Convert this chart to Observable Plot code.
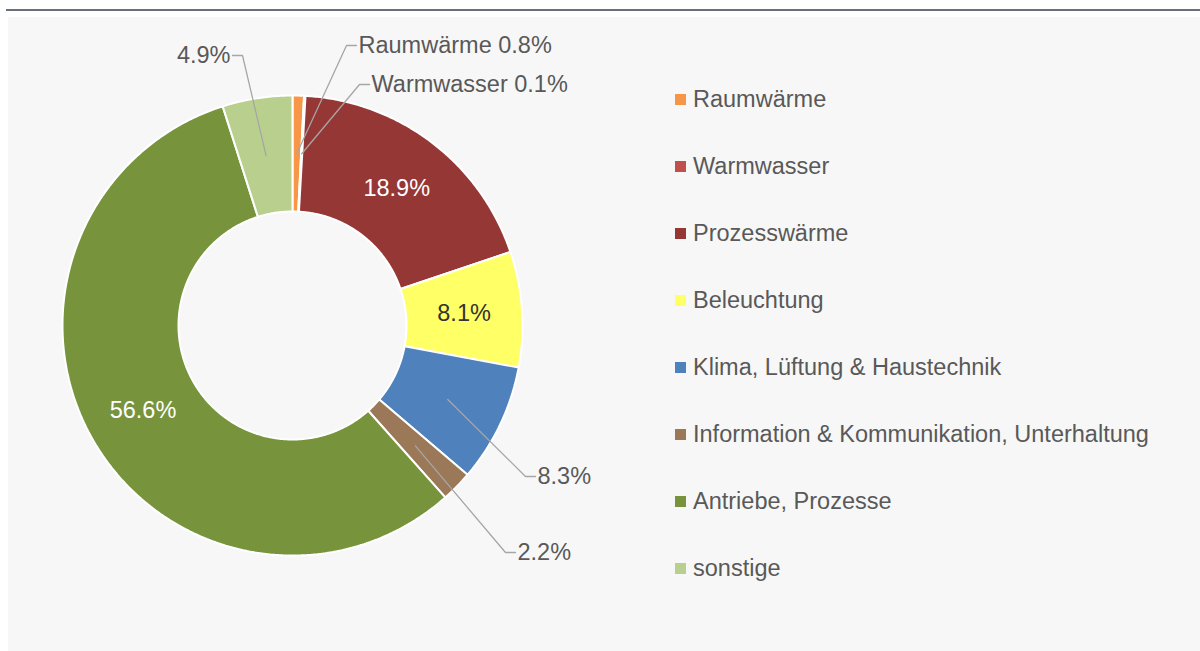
<!DOCTYPE html>
<html>
<head>
<meta charset="utf-8">
<script src="https://cdn.jsdelivr.net/npm/d3@7"></script>
<script src="https://cdn.jsdelivr.net/npm/@observablehq/plot@0.6"></script>
<style>
  html, body { margin: 0; padding: 0; background: #ffffff; }
  body { width: 1200px; height: 651px; position: relative; overflow: hidden; font-family: "Liberation Sans", Arial, sans-serif; }
  #rule { position: absolute; left: 6px; top: 9px; width: 1194px; height: 2px; background: #6a7079; }
  #panel { position: absolute; left: 8px; top: 17px; width: 1192px; height: 634px; background: #f7f7f7; }
  #chart { position: absolute; left: 0; top: 0; }
  #chart svg { overflow: visible; }
  #legend { position: absolute; left: 667px; top: 49.5px; }
  .row { height: 66.9px; display: flex; align-items: center; font-size: 23.5px; color: #595959; white-space: nowrap; }
  .sw { width: 11px; height: 11px; margin-right: 7px; flex: none; }
</style>
</head>
<body>
<div id="rule"></div>
<div id="panel">
  <div id="chart"></div>
  <div id="legend"></div>
</div>
<script>
// ---- data ----
const categories = ["Raumwärme", "Warmwasser", "Prozesswärme", "Beleuchtung", "Klima, Lüftung & Haustechnik", "Information & Kommunikation, Unterhaltung", "Antriebe, Prozesse", "sonstige"];
const shares = [0.8, 0.1, 18.9, 8.1, 8.3, 2.2, 56.6, 4.9];
const colors = ["#F79646", "#C0504D", "#953735", "#FFFF66", "#4F81BD", "#9B7858", "#77933C", "#B9CF8D"];

// ---- layout config (pixels) ----
const W = 1192, H = 634;
const cx = 284, cy = 308;      // donut centre inside panel
const R = 229;                 // unit radius in px
const outerPx = 230, innerPx = 114, labelPx = 172;
// label style per category: "in" (inside, with colour) or callout elbow offset from centre
const labelCfg = [
  {type: "callout", dx: 54, dy: -280, side: 1, withName: true},
  {type: "callout", dx: 67, dy: -241, side: 1, withName: true},
  {type: "in", color: "#ffffff"},
  {type: "in", color: "#333333"},
  {type: "callout", dx: 525 - 292, dy: 476 - 325, side: 1},
  {type: "callout", dx: 505 - 292, dy: 552 - 325, side: 1},
  {type: "in", color: "#ffffff"},
  {type: "callout", dx: 242 - 292, dy: 55 - 325, side: -1}
];
const font = "Liberation Sans, Arial, sans-serif";
const fontSize = 23.5;
const textColor = "#595959";
const leaderColor = "#a6a6a6";

// ---- geometry from the values ----
const total = d3.sum(shares);
let cum = 0;
const slices = categories.map((name, i) => {
  const a0 = cum / total * 2 * Math.PI;
  cum += shares[i];
  const a1 = cum / total * 2 * Math.PI;
  return {name, i, a0, a1, mid: (a0 + a1) / 2, value: shares[i]};
});

const ro = outerPx / R, ri = innerPx / R, rl = labelPx / R;
const polyPts = [];
for (const s of slices) {
  const n = Math.max(2, Math.ceil((s.a1 - s.a0) * 180 / Math.PI * 2));
  for (let k = 0; k <= n; k++) {
    const a = s.a0 + (s.a1 - s.a0) * k / n;
    polyPts.push({name: s.name, x: ro * Math.sin(a), y: ro * Math.cos(a)});
  }
  for (let k = n; k >= 0; k--) {
    const a = s.a0 + (s.a1 - s.a0) * k / n;
    polyPts.push({name: s.name, x: ri * Math.sin(a), y: ri * Math.cos(a)});
  }
}

const fmt = v => v.toFixed(1) + "%";
const inside = [], leaderPts = [], callTexts = [];
slices.forEach((s, i) => {
  const cfg = labelCfg[i];
  const px = rl * Math.sin(s.mid), py = rl * Math.cos(s.mid);
  const txt = (cfg.withName ? s.name + " " : "") + fmt(s.value);
  if (cfg.type === "in") {
    inside.push({x: px, y: py, text: txt, color: cfg.color});
  } else {
    const ex = cfg.dx / R, ey = -cfg.dy / R;
    const hx = ex + cfg.side * 10 / R;
    leaderPts.push({id: i, x: px, y: py}, {id: i, x: ex, y: ey}, {id: i, x: hx, y: ey});
    callTexts.push({x: hx + cfg.side * 2 / R, y: ey, text: txt, anchor: cfg.side > 0 ? "start" : "end"});
  }
});

const chart = Plot.plot({
  width: W,
  height: H,
  margin: 0,
  style: {background: "transparent", overflow: "visible", fontFamily: font},
  x: {domain: [-cx / R, (W - cx) / R], axis: null},
  y: {domain: [-(H - cy) / R, cy / R], axis: null},
  color: {domain: categories, range: colors},
  marks: [
    Plot.line(polyPts, {x: "x", y: "y", z: "name", fill: "name", stroke: "#ffffff", strokeWidth: 2, curve: "linear-closed", strokeLinejoin: "miter"}),
    Plot.text(inside.filter(d => d.color === "#ffffff"), {x: "x", y: "y", text: "text", fill: "#ffffff", fontSize, fontFamily: font}),
    Plot.text(inside.filter(d => d.color !== "#ffffff"), {x: "x", y: "y", text: "text", fill: "#333333", fontSize, fontFamily: font}),
    Plot.line(leaderPts, {x: "x", y: "y", z: "id", stroke: leaderColor, strokeWidth: 1.3}),
    Plot.text(callTexts.filter(d => d.anchor === "start"), {x: "x", y: "y", text: "text", fill: textColor, fontSize, fontFamily: font, textAnchor: "start"}),
    Plot.text(callTexts.filter(d => d.anchor === "end"), {x: "x", y: "y", text: "text", fill: textColor, fontSize, fontFamily: font, textAnchor: "end"})
  ]
});
document.getElementById("chart").appendChild(chart);

// ---- legend ----
const legend = document.getElementById("legend");
categories.forEach((name, i) => {
  const row = document.createElement("div");
  row.className = "row";
  const sw = document.createElement("span");
  sw.className = "sw";
  sw.style.background = colors[i];
  const lab = document.createElement("span");
  lab.textContent = name;
  row.appendChild(sw);
  row.appendChild(lab);
  legend.appendChild(row);
});
</script>
</body>
</html>
